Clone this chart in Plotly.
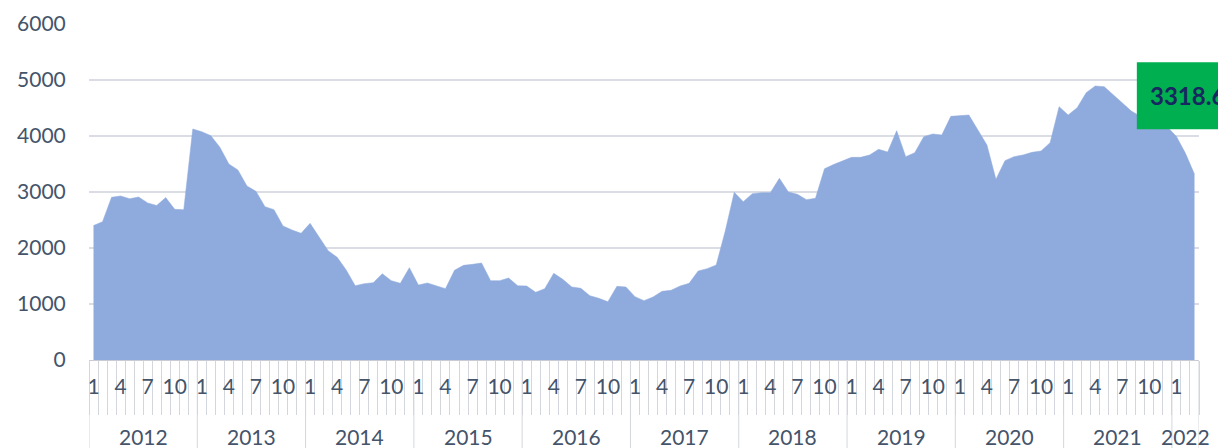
import plotly.graph_objects as go

# ---- data (monthly, Jan 2012 – Mar 2022) ----
years = [2012]*12 + [2013]*12 + [2014]*12 + [2015]*12 + [2016]*12 + [2017]*12 + \
        [2018]*12 + [2019]*12 + [2020]*12 + [2021]*12 + [2022]*3
months = list(range(1, 13))*10 + [1, 2, 3]

v2012 = [2400, 2470, 2905, 2930, 2880, 2910, 2805, 2760, 2900, 2690, 2685, 4125]
v2013 = [4077, 4006, 3800, 3500, 3393, 3107, 3012, 2738, 2685, 2393, 2321, 2262]
v2014 = [2440, 2202, 1952, 1833, 1607, 1327, 1363, 1381, 1542, 1417, 1369, 1649]
v2015 = [1339, 1375, 1327, 1274, 1601, 1690, 1708, 1732, 1417, 1417, 1464, 1327]
v2016 = [1321, 1208, 1274, 1548, 1440, 1304, 1280, 1149, 1101, 1042, 1315, 1304]
v2017 = [1131, 1060, 1125, 1226, 1244, 1321, 1369, 1589, 1631, 1696, 2300, 2994]
v2018 = [2827, 2970, 2988, 2988, 3244, 3000, 2958, 2863, 2887, 3415, 3490, 3560]
v2019 = [3619, 3619, 3661, 3762, 3714, 4095, 3631, 3702, 3988, 4036, 4018, 4351]
v2020 = [4363, 4375, 4107, 3839, 3226, 3560, 3631, 3661, 3708, 3732, 3881, 4524]
v2021 = [4375, 4506, 4774, 4893, 4881, 4732, 4583, 4446, 4350, 4280, 4210, 4160]
v2022 = [3990, 3690, 3318.6]
values = v2012 + v2013 + v2014 + v2015 + v2016 + v2017 + v2018 + v2019 + v2020 + v2021 + v2022

label_months = [1, 4, 7, 10]
y_ticks = [0, 1000, 2000, 3000, 4000, 5000, 6000]

# ---- styling ----
FONT = "Lato"
TXT = "#44546A"
GRID = "#DADEE4"
TICK = "#D3D7DD"
FILL = "#8FAADC"

idx = list(range(len(values)))

fig = go.Figure()
fig.add_trace(go.Scatter(
    x=idx, y=values, mode="lines", fill="tozeroy",
    fillcolor=FILL, line=dict(color=FILL, width=0.5),
    hoverinfo="skip", showlegend=False,
))

tickvals = [i for i, m in zip(idx, months) if m in label_months]
ticktext = [str(m) for m in months if m in label_months]

fig.update_xaxes(
    range=[-0.5, len(values) - 0.5],
    tickmode="array", tickvals=tickvals, ticktext=ticktext,
    ticks="outside", ticklen=8, tickcolor="rgba(0,0,0,0)",
    tickfont=dict(family=FONT, size=21, color=TXT),
    minor=dict(ticks="outside", tick0=-0.5, dtick=1, ticklen=54,
               tickcolor=TICK, tickwidth=1, showgrid=False),
    showline=True, linecolor="#C9CDD3", linewidth=1,
    showgrid=False, zeroline=False, fixedrange=True, automargin=False,
)
fig.update_yaxes(
    range=[0, 6000], tickvals=y_ticks,
    ticks="outside", ticklen=18, tickcolor="rgba(0,0,0,0)",
    tickfont=dict(family=FONT, size=21, color=TXT),
    showgrid=True, gridcolor=GRID, gridwidth=1.5,
    zeroline=False, showline=False, fixedrange=True, automargin=False,
)

# year group labels and separators
unique_years = sorted(set(years))
shapes = []
annotations = []
for yr in unique_years:
    pos = [i for i, y in zip(idx, years) if y == yr]
    center = (pos[0] + pos[-1]) / 2
    annotations.append(dict(
        x=center, xref="x", y=-0.228, yref="paper", text=str(yr),
        showarrow=False, yanchor="middle",
        font=dict(family=FONT, size=21, color=TXT),
    ))
    shapes.append(dict(type="line", xref="x", yref="paper",
                       x0=pos[0] - 0.5, x1=pos[0] - 0.5, y0=0, y1=-0.3,
                       line=dict(color=TICK, width=1)))
shapes.append(dict(type="line", xref="x", yref="paper",
                   x0=len(values) - 0.5, x1=len(values) - 0.5, y0=0, y1=-0.3,
                   line=dict(color=TICK, width=1)))

# green callout with the latest value
shapes.append(dict(type="rect", xref="paper", yref="paper",
                   x0=0.944, x1=1.2, y0=0.687, y1=0.886,
                   fillcolor="#00B050", line=dict(width=0), layer="above"))
annotations.append(dict(
    x=0.954, xref="paper", y=0.786, yref="paper",
    text=f"<b>{values[-1]}</b>", showarrow=False,
    xanchor="left", yanchor="middle",
    font=dict(family=FONT, size=24, color="#172760"),
))

fig.update_layout(
    width=1218, height=448,
    margin=dict(l=89, r=19, t=24, b=88, autoexpand=False),
    paper_bgcolor="white", plot_bgcolor="white",
    shapes=shapes, annotations=annotations,
    showlegend=False,
)

fig.write_html(
    "out.html",
    config={"displayModeBar": False},
    post_script="document.body.style.margin='0';document.body.style.overflow='hidden';",
)
